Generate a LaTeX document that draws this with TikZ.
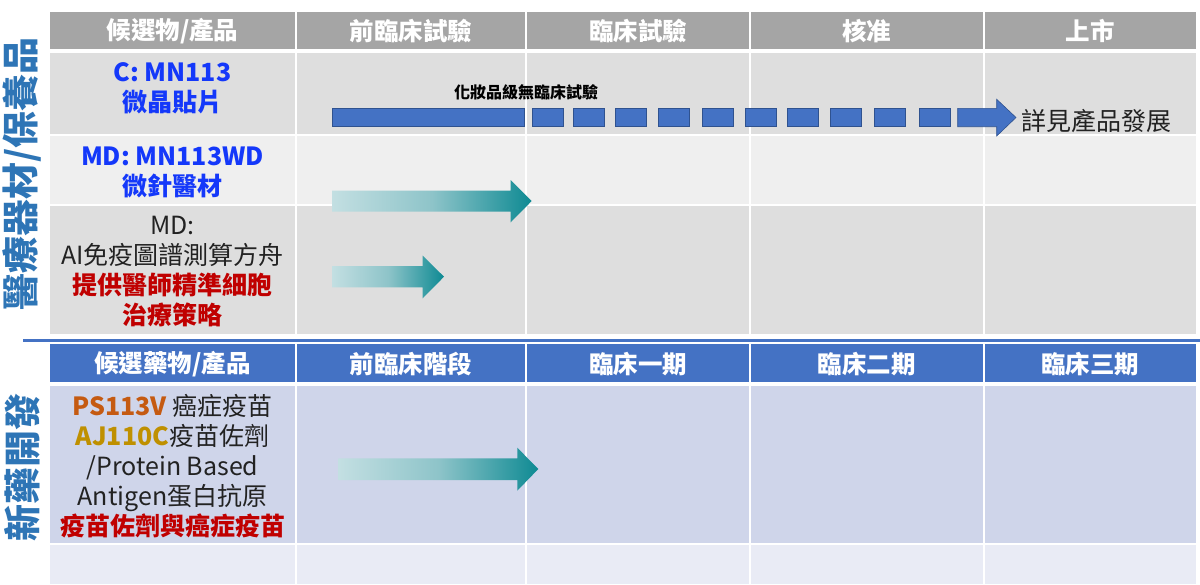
\documentclass[tikz,border=0pt]{standalone}
\usepackage{fontspec}
\setmainfont{Noto Sans CJK TC}
\definecolor{hdrgray}{HTML}{A5A5A5}
\definecolor{rowA}{HTML}{DEDEDE}
\definecolor{rowB}{HTML}{EFEFEF}
\definecolor{hdrblue}{HTML}{4472C4}
\definecolor{rowC}{HTML}{CFD5EA}
\definecolor{rowD}{HTML}{E9EBF5}
\definecolor{lblblue}{HTML}{2E75B6}
\definecolor{txtblue}{HTML}{1438FA}
\definecolor{txtred}{HTML}{C00000}
\definecolor{txtorange}{HTML}{C55A11}
\definecolor{txtgold}{HTML}{BF9000}
\definecolor{txtgray}{HTML}{222222}
\definecolor{barblue}{HTML}{4472C4}
\definecolor{barline}{HTML}{2F528F}
\definecolor{tealdark}{HTML}{0E8A93}
\definecolor{teallight}{HTML}{C3DFE2}
\definecolor{tealmid}{HTML}{8EC4C9}
\tikzset{
  hdrtext/.style={text=white,font=\fontsize{24.5}{28}\selectfont\bfseries,inner sep=0pt},
  celltext/.style={align=center,inner sep=0pt,font=\fontsize{25}{30}\selectfont},
  sidelabel/.style={text=lblblue,rotate=90,inner sep=0pt,font=\fontsize{37}{40}\selectfont\bfseries},
  dashbar/.style={fill=barblue,draw=barline,line width=0.6pt},
  progarrow/.style={left color=teallight,right color=tealdark,middle color=tealmid,draw=none},
}
\begin{document}
\begin{tikzpicture}[x=1pt,y=-1pt]
\useasboundingbox (0,0) rectangle (1200,584);
\fill[white] (0,0) rectangle (1200,584);
% ---------- top table ----------
\foreach \a/\b in {50/295,297/525,527/749,751/982.5,984.5/1196}{
  \fill[hdrgray] (\a,12) rectangle (\b,49);
  \fill[rowA] (\a,53) rectangle (\b,133.5);
  \fill[rowB] (\a,135.5) rectangle (\b,203.5);
  \fill[rowA] (\a,205.5) rectangle (\b,333.5);
}
% separator
\draw[hdrblue,line width=3pt] (23,340) -- (1200,340);
% ---------- bottom table ----------
\foreach \a/\b in {50/295,297/525,527/749,751/982.5,984.5/1196}{
  \fill[hdrblue] (\a,344) rectangle (\b,382.3);
  \fill[rowC] (\a,386) rectangle (\b,543);
  \fill[rowD] (\a,545) rectangle (\b,584);
}
% ---------- header texts ----------
\node[hdrtext] (h0) at (172.5,31) {候選物/產品};
\node[hdrtext] (h1) at (411,31) {前臨床試驗};
\node[hdrtext] (h2) at (638,31) {臨床試驗};
\node[hdrtext] (h3) at (866.5,31) {核准};
\node[hdrtext] (h4) at (1090,31) {上市};
\node[hdrtext] (g0) at (172.5,364) {候選藥物/產品};
\node[hdrtext] (g1) at (411,364) {前臨床階段};
\node[hdrtext] (g2) at (638,364) {臨床一期};
\node[hdrtext] (g3) at (866.5,364) {臨床二期};
\node[hdrtext] (g4) at (1090,364) {臨床三期};
% ---------- side labels ----------
\node[sidelabel] (s1) at (22,174) {醫療器材/保養品};
\node[sidelabel] (s2) at (22,467) {新藥開發};
% ---------- first column texts ----------
\node[celltext,text=txtblue] (c1) at (172.5,88) {\bfseries C: MN113\\\bfseries 微晶貼片};
\node[celltext,text=txtblue] (c2) at (172.5,172) {\bfseries MD: MN113WD\\\bfseries 微針醫材};
\node[celltext,text=txtgray] (c3) at (172.5,272) {MD:\\AI免疫圖譜測算方舟\\\textcolor{txtred}{\bfseries 提供醫師精準細胞}\\\textcolor{txtred}{\bfseries 治療策略}};
\node[celltext,text=txtgray] (c4) at (172.5,466) {\textcolor{txtorange}{\bfseries PS113V} 癌症疫苗\\\textcolor{txtgold}{\bfseries AJ110C}疫苗佐劑\\/Protein Based\\Antigen蛋白抗原\\\textcolor{txtred}{\bfseries 疫苗佐劑與癌症疫苗}};
% ---------- dashed progress arrow (C: MN113) ----------
\node[inner sep=0pt,font=\fontsize{16}{18}\selectfont\bfseries] (note) at (526,92) {化妝品級無臨床試驗};
\filldraw[dashbar] (332,108.3) rectangle (524.7,126.7);
\foreach \x in {532.7,573.3,615.7,658,702,745,787.3,830,874,919.3}
  \filldraw[dashbar] (\x,108.3) rectangle ++(31,18.4);
\filldraw[dashbar] (957.7,108.3) -- (996.7,108.3) -- (996.7,99.3) -- (1016,117.5) -- (996.7,136) -- (996.7,126.7) -- (957.7,126.7) -- cycle;
\node[inner sep=0pt,anchor=west,font=\fontsize{25}{28}\selectfont,text=txtgray] (more) at (1021,121.5) {詳見產品發展};
% ---------- gradient arrows ----------
\shade[progarrow] (332,190.7) -- (510.7,190.7) -- (510.7,180) -- (531.7,201) -- (510.7,222.3) -- (510.7,211.7) -- (332,211.7) -- cycle;
\shade[progarrow] (332,266) -- (422.7,266) -- (422.7,255.7) -- (444,276.7) -- (422.7,298.3) -- (422.7,287.3) -- (332,287.3) -- cycle;
\shade[progarrow] (338.3,458.3) -- (517.3,458.3) -- (517.3,447.7) -- (538.3,469) -- (517.3,490.7) -- (517.3,480) -- (338.3,480) -- cycle;
\end{tikzpicture}
\end{document}
